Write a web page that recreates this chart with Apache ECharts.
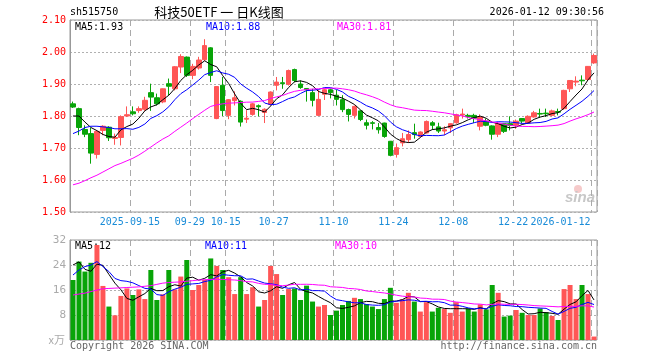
<!DOCTYPE html>
<html><head><meta charset="utf-8">
<script src="https://cdn.jsdelivr.net/npm/echarts@6/dist/echarts.min.js"></script>
<style>html,body{margin:0;padding:0;background:#fff}#c{width:660px;height:360px}</style>
</head><body><div id="c"></div>
<script>
const dates = [
'2025-09-01','2025-09-02','2025-09-03','2025-09-04','2025-09-05','2025-09-08','2025-09-09','2025-09-10','2025-09-11','2025-09-12',
'2025-09-15','2025-09-16','2025-09-17','2025-09-18','2025-09-19','2025-09-22','2025-09-23','2025-09-24','2025-09-25','2025-09-26',
'2025-09-29','2025-09-30','2025-10-09','2025-10-10','2025-10-13','2025-10-14','2025-10-15','2025-10-16','2025-10-17','2025-10-20',
'2025-10-21','2025-10-22','2025-10-23','2025-10-24','2025-10-27','2025-10-28','2025-10-29','2025-10-30','2025-10-31','2025-11-03',
'2025-11-04','2025-11-05','2025-11-06','2025-11-07','2025-11-10','2025-11-11','2025-11-12','2025-11-13','2025-11-14','2025-11-17',
'2025-11-18','2025-11-19','2025-11-20','2025-11-21','2025-11-24','2025-11-25','2025-11-26','2025-11-27','2025-11-28','2025-12-01',
'2025-12-02','2025-12-03','2025-12-04','2025-12-05','2025-12-08','2025-12-09','2025-12-10','2025-12-11','2025-12-12','2025-12-15',
'2025-12-16','2025-12-17','2025-12-18','2025-12-19','2025-12-22','2025-12-23','2025-12-24','2025-12-25','2025-12-26','2025-12-29',
'2025-12-30','2025-12-31','2026-01-05','2026-01-06','2026-01-07','2026-01-08','2026-01-09','2026-01-12'];
const tickDates = ['2025-09-15','2025-09-29','2025-10-15','2025-10-27','2025-11-10','2025-11-24','2025-12-08','2025-12-22','2026-01-12'];
const tickLabels = ['2025-09-15','09-29','10-15','10-27','11-10','11-24','12-08','12-22','2026-01-12'];
const opens = [1.838,1.823,1.758,1.745,1.680,1.755,1.765,1.730,1.733,1.800,
1.813,1.817,1.821,1.873,1.857,1.844,1.901,1.885,1.953,1.984,
1.927,1.950,1.976,2.013,1.792,1.896,1.802,1.848,1.846,1.790,
1.805,1.832,1.811,1.836,1.896,1.904,1.899,1.945,1.900,1.886,
1.873,1.802,1.868,1.882,1.865,1.851,1.820,1.802,1.816,1.779,
1.779,1.764,1.778,1.721,1.680,1.716,1.726,1.748,1.736,1.747,
1.779,1.766,1.753,1.763,1.779,1.803,1.802,1.802,1.768,1.784,
1.769,1.743,1.776,1.776,1.771,1.792,1.778,1.797,1.808,1.809,
1.802,1.814,1.823,1.885,1.906,1.912,1.914,1.966];
const closes = [1.828,1.764,1.743,1.684,1.752,1.768,1.732,1.733,1.798,1.804,
1.807,1.823,1.849,1.859,1.838,1.885,1.893,1.954,1.986,1.927,
1.955,1.975,2.020,1.927,1.892,1.817,1.851,1.857,1.781,1.793,
1.838,1.829,1.821,1.875,1.906,1.901,1.942,1.911,1.889,1.882,
1.849,1.852,1.882,1.873,1.852,1.820,1.805,1.830,1.789,1.771,
1.777,1.757,1.736,1.677,1.701,1.729,1.742,1.742,1.750,1.783,
1.771,1.753,1.757,1.776,1.804,1.806,1.798,1.793,1.797,1.771,
1.743,1.776,1.752,1.771,1.784,1.784,1.799,1.810,1.806,1.807,
1.816,1.812,1.880,1.911,1.909,1.910,1.955,1.989];
const highs = [1.845,1.826,1.771,1.763,1.755,1.771,1.768,1.745,1.802,1.830,
1.830,1.830,1.860,1.901,1.870,1.886,1.917,1.956,1.993,1.986,
1.963,1.985,2.040,2.015,1.893,1.922,1.853,1.877,1.849,1.818,
1.841,1.836,1.824,1.877,1.922,1.922,1.945,1.948,1.911,1.886,
1.885,1.882,1.886,1.886,1.882,1.865,1.823,1.833,1.818,1.789,
1.784,1.778,1.779,1.722,1.714,1.747,1.755,1.776,1.752,1.786,
1.784,1.779,1.768,1.778,1.807,1.823,1.807,1.807,1.805,1.792,
1.771,1.781,1.778,1.799,1.789,1.793,1.802,1.816,1.823,1.823,
1.820,1.823,1.882,1.912,1.924,1.927,1.956,1.995];
const lows = [1.825,1.740,1.734,1.651,1.667,1.740,1.722,1.710,1.708,1.797,
1.802,1.810,1.816,1.816,1.833,1.840,1.865,1.880,1.934,1.922,
1.915,1.945,1.972,1.906,1.790,1.800,1.790,1.833,1.767,1.778,
1.801,1.799,1.778,1.833,1.880,1.885,1.895,1.905,1.885,1.845,
1.830,1.800,1.850,1.855,1.833,1.812,1.783,1.792,1.784,1.758,
1.758,1.745,1.732,1.674,1.670,1.705,1.716,1.729,1.734,1.745,
1.757,1.747,1.740,1.747,1.776,1.792,1.792,1.778,1.755,1.768,
1.726,1.734,1.747,1.755,1.760,1.778,1.776,1.795,1.795,1.797,
1.799,1.802,1.820,1.875,1.893,1.896,1.911,1.963];
const volumes = [19.2,25.1,21.9,24.7,30.4,17.3,10.7,7.9,14.1,16.5,
14.4,16.2,13.1,22.4,12.8,14.6,22.4,16.2,20.3,25.6,
16.0,17.6,19.2,26.1,23.7,22.4,20.1,14.7,20.1,14.7,
16.9,10.7,12.8,23.7,21.1,14.4,16.3,16.5,12.8,17.4,
12.3,10.7,11.2,8.0,9.4,11.2,12.5,13.5,13.1,11.5,
10.7,9.9,13.1,16.7,11.9,13.0,15.1,12.3,9.1,12.1,
9.1,10.3,9.9,8.7,12.1,9.1,10.1,9.1,11.4,9.8,
17.6,15.1,7.5,7.8,9.6,8.7,8.0,8.0,10.1,8.9,
7.7,6.4,16.3,17.6,13.1,17.6,14.7,1.1];
// moving-average values for days whose window reaches before the first shown day
const ma5Head = [1.800,1.800,1.781,1.764];
const ma10Head = [1.745,1.753,1.764,1.768,1.768,1.766,1.764,1.760,1.760];
const ma30Head = [1.585,1.590,1.598,1.607,1.615,1.625,1.635,1.645,1.652,1.660,
1.668,1.678,1.690,1.703,1.716,1.728,1.738,1.752,1.765,1.778,
1.792,1.805,1.818,1.830,1.835,1.838,1.840,1.841,1.842];
const vma5Head = [24.0,25.0,22.6,22.0];
const vma10Head = [20.8,22.4,23.5,24.0,25.1,23.5,21.9,19.7,19.0];
const vma30Head = [14.4,14.7,15.0,15.5,16.0,16.4,16.5,16.6,16.7,16.8,
16.9,17.0,17.2,17.4,17.8,18.2,18.4,18.5,18.6,18.8,
19.0,19.2,19.3,19.4,19.4,19.4,19.3,19.2,19.0];

function movingAvg(vals, n, head, dec) {
  return vals.map((v, i) => {
    if (i < head.length) return head[i];
    let s = 0; for (let k = i - n + 1; k <= i; k++) s += vals[k];
    return +(s / n).toFixed(dec);
  });
}
const ma5 = movingAvg(closes, 5, ma5Head, 4), ma10 = movingAvg(closes, 10, ma10Head, 4), ma30 = movingAvg(closes, 30, ma30Head, 4);
const vma5 = movingAvg(volumes, 5, vma5Head, 2), vma10 = movingAvg(volumes, 10, vma10Head, 2), vma30 = movingAvg(volumes, 30, vma30Head, 2);

const RED = '#ff5656', GREEN = '#08a408';
const MONO = "'DejaVu Sans Mono', monospace";
const tickIdx = new Set(tickDates.map(d => dates.indexOf(d)));
const lastIdx = dates.length - 1;
const kData = dates.map((d, i) => [opens[i], closes[i], lows[i], highs[i]]);
const vData = volumes.map((v, i) => ({value: v, itemStyle: {color: closes[i] >= opens[i] ? RED : GREEN}}));

const chart = echarts.init(document.getElementById('c'), null, {renderer: 'canvas'});
const gridLine = {show: true, interval: (i) => tickIdx.has(i), lineStyle: {color: '#aaaaaa', type: [6, 4], width: 1}};
const hLine = {show: true, lineStyle: {color: '#b0b0b0', type: [2, 2], width: 1}};
const dateLabel = {color: '#1a8cd8', fontFamily: MONO, fontSize: 10, margin: 5,
  formatter: (v) => tickLabels[tickDates.indexOf(v)]};
const txt = (text, x, y, fill, font, align) => ({type: 'text', x, y, silent: true,
  style: {text, fill, font, textAlign: align || 'left', textVerticalAlign: 'middle'}});

chart.setOption({
  animation: false,
  backgroundColor: '#fff',
  grid: [
    {left: 70, top: 20, width: 527, height: 192, show: true, borderColor: '#999', borderWidth: 1, backgroundColor: 'transparent'},
    {left: 70, top: 240, width: 527, height: 100, show: true, borderColor: '#999', borderWidth: 1, backgroundColor: 'transparent'}
  ],
  xAxis: [
    {type: 'category', gridIndex: 0, data: dates, boundaryGap: true,
     axisLine: {show: false}, axisTick: {show: false},
     axisLabel: Object.assign({}, dateLabel, {interval: (i) => tickIdx.has(i) && i !== lastIdx, padding: [0, 6, 0, 0]}),
     splitLine: gridLine},
    {type: 'category', gridIndex: 1, data: dates, boundaryGap: true,
     axisLine: {show: false}, axisTick: {show: false}, axisLabel: {show: false},
     splitLine: gridLine},
    {type: 'category', gridIndex: 0, data: dates, boundaryGap: true, position: 'bottom',
     axisLine: {show: false}, axisTick: {show: false}, splitLine: {show: false},
     axisLabel: Object.assign({}, dateLabel, {interval: (i) => i === lastIdx, padding: [0, 67, 0, 0]})}
  ],
  yAxis: [
    {type: 'value', gridIndex: 0, min: 1.5, max: 2.1, interval: 0.1, scale: true,
     axisLine: {show: true, lineStyle: {color: '#999'}}, axisTick: {show: false},
     axisLabel: {color: '#ff0000', fontFamily: MONO, fontSize: 10, margin: 4, formatter: (v) => v.toFixed(2)},
     splitLine: hLine},
    {type: 'value', gridIndex: 1, min: 0, max: 32, interval: 8,
     axisLine: {show: true, lineStyle: {color: '#999'}}, axisTick: {show: false},
     axisLabel: {color: '#aaaaaa', fontFamily: MONO, fontSize: 11, margin: 4, formatter: (v) => v === 0 ? '' : String(v)},
     splitLine: hLine}
  ],
  series: [
    {type: 'candlestick', xAxisIndex: 0, yAxisIndex: 0, data: kData, barWidth: 5,
     itemStyle: {color: RED, color0: GREEN, borderColor: RED, borderColor0: GREEN, borderWidth: 1}},
    {type: 'line', xAxisIndex: 0, yAxisIndex: 0, data: ma5, showSymbol: false, lineStyle: {color: '#000', width: 1}, z: 5},
    {type: 'line', xAxisIndex: 0, yAxisIndex: 0, data: ma10, showSymbol: false, lineStyle: {color: '#0000ff', width: 1}, z: 5},
    {type: 'line', xAxisIndex: 0, yAxisIndex: 0, data: ma30, showSymbol: false, lineStyle: {color: '#ff00ff', width: 1}, z: 5},
    {type: 'bar', xAxisIndex: 1, yAxisIndex: 1, data: vData, barWidth: 5},
    {type: 'line', xAxisIndex: 1, yAxisIndex: 1, data: vma5, showSymbol: false, lineStyle: {color: '#000', width: 1}, z: 5},
    {type: 'line', xAxisIndex: 1, yAxisIndex: 1, data: vma10, showSymbol: false, lineStyle: {color: '#0000ff', width: 1}, z: 5},
    {type: 'line', xAxisIndex: 1, yAxisIndex: 1, data: vma30, showSymbol: false, lineStyle: {color: '#ff00ff', width: 1}, z: 5}
  ],
  graphic: [
    txt('sh515750', 70, 12, '#000', '10px ' + MONO),
    txt('科技50ETF 一 日K线图', 219, 12, '#000', '13px "Noto Sans CJK SC"', 'center'),
    txt('2026-01-12 09:30:56', 604, 12, '#000', '10px ' + MONO, 'right'),
    txt('MA5:' + ma5[lastIdx].toFixed(2), 75, 27, '#000', '10px ' + MONO),
    txt('MA10:' + ma10[lastIdx].toFixed(2), 206, 27, '#0000ff', '10px ' + MONO),
    txt('MA30:' + ma30[lastIdx].toFixed(2), 337, 27, '#ff00ff', '10px ' + MONO),
    txt('MA5:12', 75, 246, '#000', '10px ' + MONO),
    txt('MA10:11', 205, 246, '#0000ff', '10px ' + MONO),
    txt('MA30:10', 335, 246, '#ff00ff', '10px ' + MONO),
    txt('x万', 65, 340, '#aaaaaa', '11px "Noto Sans CJK SC"', 'right'),
    txt('Copyright 2026 SINA.COM', 70, 346, '#666', '10px ' + MONO),
    txt('http://finance.sina.com.cn', 597, 346, '#666', '10px ' + MONO, 'right'),
    {type: 'circle', shape: {cx: 578, cy: 189, r: 4}, style: {fill: '#f6caca'}, silent: true},
    txt('sina', 565, 198, '#c8c8c8', 'italic bold 15px "Liberation Sans"')
  ]
});
</script></body></html>
